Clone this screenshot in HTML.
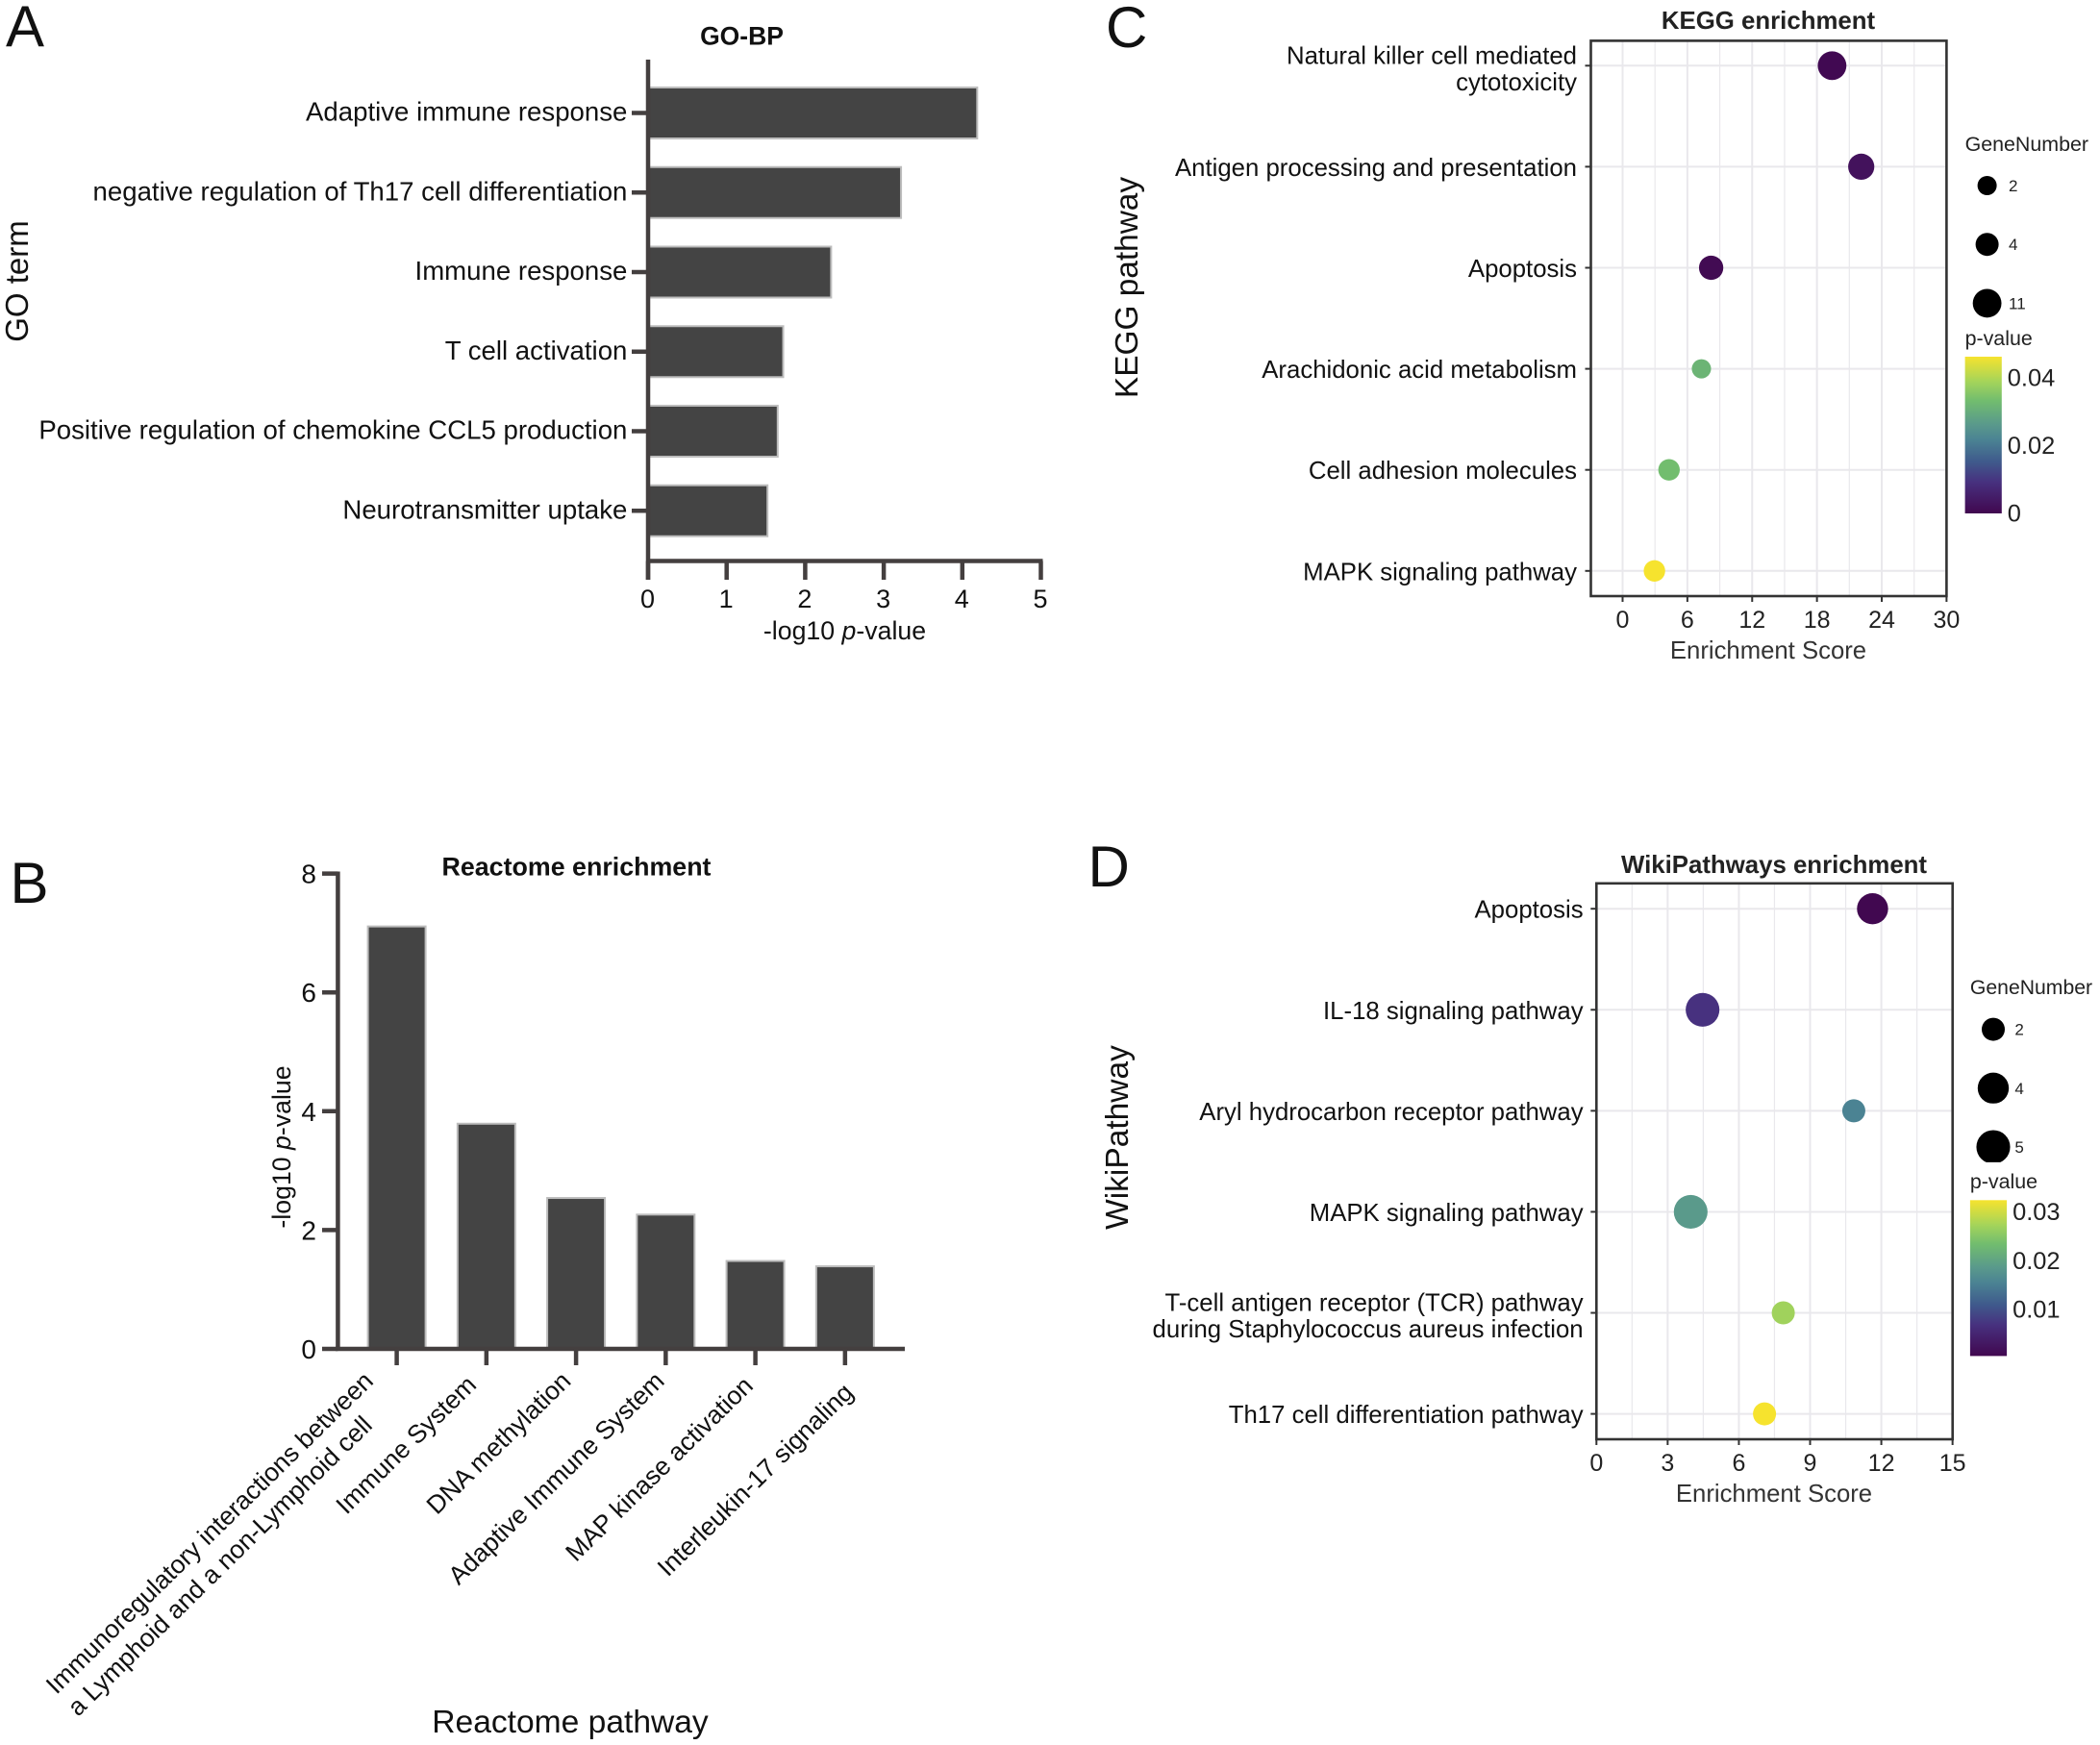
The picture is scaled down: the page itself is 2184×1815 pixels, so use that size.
<!DOCTYPE html>
<html lang="en">
<head>
<meta charset="utf-8">
<title>Enrichment analysis figure</title>
<style>
html,body{margin:0;padding:0;background:#fff;}
svg{display:block;font-family:"Liberation Sans",Arial,sans-serif;}
</style>
</head>
<body>
<svg id="fig" xmlns="http://www.w3.org/2000/svg" width="2184" height="1815" viewBox="0 0 2184 1815">
<rect x="0" y="0" width="2184" height="1815" fill="#fff"/>
<text x="6" y="48" font-size="60" fill="#111">A</text>
<text x="10.5" y="939" font-size="60" fill="#111">B</text>
<text x="1150" y="49" font-size="60" fill="#111">C</text>
<text x="1131.5" y="922" font-size="60" fill="#111">D</text>

<g id="panelA">
<text x="771.5" y="46.5" font-size="26.5" font-weight="bold" text-anchor="middle" fill="#111">GO-BP</text>
<text x="878.5" y="665" font-size="26.7" text-anchor="middle" fill="#111">-log10 <tspan font-style="italic">p</tspan>-value</text>
<text transform="translate(29,292.5) rotate(-90)" font-size="33" text-anchor="middle" fill="#111">GO term</text>
</g>
<g id="panelB">
<text x="599.5" y="910.5" font-size="26.8" font-weight="bold" text-anchor="middle" fill="#111">Reactome enrichment</text>
<text transform="translate(302,1193) rotate(-90)" font-size="26.7" text-anchor="middle" fill="#111">-log10 <tspan font-style="italic">p</tspan>-value</text>
<text x="593" y="1802" font-size="33.6" text-anchor="middle" fill="#111">Reactome pathway</text>
</g>
<g id="panelC">
<text x="1839" y="30" font-size="25.8" font-weight="bold" text-anchor="middle" fill="#222">KEGG enrichment</text>
<text x="1839" y="685" font-size="25.7" text-anchor="middle" fill="#333">Enrichment Score</text>
<text transform="translate(1183,299) rotate(-90)" font-size="33.4" text-anchor="middle" fill="#111">KEGG pathway</text>
<text x="2043.6" y="157" font-size="21.4" fill="#222">GeneNumber</text>
<text x="2043.6" y="359" font-size="21.4" fill="#222">p-value</text>
</g>
<g id="panelD">
<text x="1845" y="908" font-size="25.8" font-weight="bold" text-anchor="middle" fill="#222">WikiPathways enrichment</text>
<text x="1845" y="1562" font-size="25.7" text-anchor="middle" fill="#333">Enrichment Score</text>
<text transform="translate(1173,1183) rotate(-90)" font-size="33.5" text-anchor="middle" fill="#111">WikiPathway</text>
<text x="2048.9" y="1034" font-size="21.2" fill="#222">GeneNumber</text>
<text x="2048.9" y="1236" font-size="21.4" fill="#222">p-value</text>
</g>
</svg>
<script>
// ---- Panel A data ----
const goTerms = ["Adaptive immune response","negative regulation of Th17 cell differentiation","Immune response","T cell activation","Positive regulation of chemokine CCL5 production","Neurotransmitter uptake"];
const goValues = [4.19,3.22,2.33,1.72,1.65,1.52];
const goTicks = [0,1,2,3,4,5];
// ---- Panel B data ----
const reactomeTerms = ["Immunoregulatory interactions between\na Lymphoid and a non-Lymphoid cell","Immune System","DNA methylation","Adaptive Immune System","MAP kinase activation","Interleukin-17 signaling"];
const reactomeValues = [7.11,3.79,2.54,2.26,1.48,1.39];
const reactomeTicks = [0,2,4,6,8];
// ---- Panel C data ----
const keggTerms = ["Natural killer cell mediated\ncytotoxicity","Antigen processing and presentation","Apoptosis","Arachidonic acid metabolism","Cell adhesion molecules","MAPK signaling pathway"];
const keggScores = [19.4,22.1,8.2,7.3,4.3,2.95];
const keggGenes = [11,7,5,2,3,3];
const keggP = [0.0005,0.0025,0.0008,0.0315,0.0333,0.0462];
const keggTicks = [0,6,12,18,24,30];
const keggMinorTicks = [3,9,15,21,27];
const keggLegendGenes = [2,4,11];
const keggColorTicks = [0,0.02,0.04];
// ---- Panel D data ----
const wikiTerms = ["Apoptosis","IL-18 signaling pathway","Aryl hydrocarbon receptor pathway","MAPK signaling pathway","T-cell antigen receptor (TCR) pathway\nduring Staphylococcus aureus infection","Th17 cell differentiation pathway"];
const wikiScores = [11.63,4.47,10.84,3.97,7.87,7.08];
const wikiGenes = [4,5,2,5,2,2];
const wikiP = [0.0006,0.0069,0.0155,0.0187,0.027,0.0324];
const wikiTicks = [0,3,6,9,12,15];
const wikiMinorTicks = [1.5,4.5,7.5,10.5,13.5];
const wikiLegendGenes = [2,4,5];
const wikiColorTicks = [0.01,0.02,0.03];

const NS = "http://www.w3.org/2000/svg";
function mk(tag, attrs, parent){
  const el = document.createElementNS(NS, tag);
  for(const k in attrs){ el.setAttribute(k, attrs[k]); }
  parent.appendChild(el);
  return el;
}
const AXIS = "#443f3f", BAR = "#444444", BAR_EDGE = "#bdbdbd", GRID = "#e9e8ec", FRAME = "#333333";
const rampStops = [[0,"#41074f"],[0.2,"#47317f"],[0.33,"#3f5a8c"],[0.47,"#4b8393"],[0.57,"#5a9a8b"],[0.72,"#72bd6e"],[0.84,"#a4d45a"],[1,"#f6e32e"]];
function hexToRgb(h){ return [1,3,5].map(function(i){ return parseInt(h.substr(i,2),16); }); }
function ramp(t){
  t = Math.max(0, Math.min(1, t));
  for(let i = 1; i < rampStops.length; i++){
    if(t <= rampStops[i][0]){
      const a = rampStops[i-1], b = rampStops[i], f = (t-a[0])/(b[0]-a[0]);
      const ca = hexToRgb(a[1]), cb = hexToRgb(b[1]);
      return "rgb("+ca.map(function(c,j){ return Math.round(c+(cb[j]-c)*f); }).join(",")+")";
    }
  }
  return rampStops[rampStops.length-1][1];
}

// ---- Panel A ----
(function(){
  const g = document.getElementById("panelA");
  const x = function(v){ return 674 + v*81.7; };
  const y = function(i){ return 117.5 + i*82.75; };
  goValues.forEach(function(v,i){
    const bar = mk("rect",{x:x(0),y:y(i)-26.5,width:x(v)-x(0),height:53,fill:BAR,stroke:BAR_EDGE,"stroke-width":2},g);
    
    
  });
  const yLine = mk("line",{x1:x(0),x2:x(0),y1:62,y2:603,stroke:AXIS,"stroke-width":4.5},g);
  
  
  const xLine = mk("line",{x1:x(0)-2,x2:x(5)+2,y1:583.5,y2:583.5,stroke:AXIS,"stroke-width":4.5},g);
  
  
  goTerms.forEach(function(t,i){
    const tick = mk("line",{x1:x(0)-17,x2:x(0),y1:y(i),y2:y(i),stroke:AXIS,"stroke-width":4.5},g);
    
    
    const lab = mk("text",{x:652.4,y:y(i)+8.2,"font-size":27.6,"text-anchor":"end",fill:"#111"},g);
    
    
    lab.textContent = t;
  });
  goTicks.forEach(function(v){
    const tick = mk("line",{x1:x(v),x2:x(v),y1:583.5,y2:603,stroke:AXIS,"stroke-width":4.5},g);
    
    
    const lab = mk("text",{x:x(v)-0.5,y:632,"font-size":27,"text-anchor":"middle",fill:"#111"},g);
    
    
    lab.textContent = v;
  });
})();

// ---- Panel B ----
(function(){
  const g = document.getElementById("panelB");
  const x = function(i){ return 412.6 + i*93.25; };
  const y = function(v){ return 1403 - v*61.8; };
  // per-label layout nudges for the rotated category text
  const nudgeX = function(i){ return i===0 ? -15 : i===1 ? -1 : i===2 ? 4 : i===3 ? 8 : i===4 ? 7 : 18; };
  const nudgeY = function(i){ return i===0 ? -4 : i===1 ? 0 : i===2 ? -4 : i===3 ? -4 : i===4 ? -7 : 0; };
  reactomeValues.forEach(function(v,i){
    const bar = mk("rect",{x:x(i)-30,y:y(v),width:60,height:y(0)-y(v),fill:BAR,stroke:BAR_EDGE,"stroke-width":2},g);
    
    
  });
  const yLine = mk("line",{x1:351.4,x2:351.4,y1:906.5,y2:1405,stroke:AXIS,"stroke-width":4.5},g);
  
  
  const xLine = mk("line",{x1:349,x2:941,y1:1403,y2:1403,stroke:AXIS,"stroke-width":4.5},g);
  
  
  reactomeTicks.forEach(function(v){
    const tick = mk("line",{x1:335,x2:351.4,y1:y(v),y2:y(v),stroke:AXIS,"stroke-width":4.5},g);
    
    
    const lab = mk("text",{x:329,y:y(v)+10,"font-size":28,"text-anchor":"end",fill:"#111"},g);
    
    
    lab.textContent = v;
  });
  reactomeTerms.forEach(function(t,i){
    const tick = mk("line",{x1:x(i),x2:x(i),y1:1403,y2:1420,stroke:AXIS,"stroke-width":4.5},g);
    
    
    const lines = t.split("\n");
    lines.forEach(function(line,j){
      const ax = x(i) - 8 + nudgeX(i) + (i===0 && j===1 ? -1 : 0);
      const ay = (i>=4 ? 1450 : 1442) + nudgeY(i) + j*46;
      const lab = mk("text",{transform:"translate("+ax+","+ay+") rotate(-44.5)","font-size":26.5,"text-anchor":"end",fill:"#111"},g);
      
      
      lab.textContent = line;
    });
  });
})();

// ---- Dot plot builder shared by panels C and D ----
function dotPlot(o){
  const g = document.getElementById(o.id);
  const x = function(v){ return o.x0 + v*o.xUnit; };
  const y = function(i){ return o.y0 + i*o.yStep; };
  o.minor.forEach(function(v){
    const gl = mk("line",{x1:x(v),x2:x(v),y1:o.top,y2:o.bottom,stroke:GRID,"stroke-width":1.2},g);
    
    
  });
  o.ticks.forEach(function(v){
    const gl = mk("line",{x1:x(v),x2:x(v),y1:o.top,y2:o.bottom,stroke:GRID,"stroke-width":2},g);
    
    
  });
  o.terms.forEach(function(t,i){
    const gl = mk("line",{x1:o.left,x2:o.right,y1:y(i),y2:y(i),stroke:GRID,"stroke-width":2},g);
    
    
  });
  o.scores.forEach(function(s,i){
    const dot = mk("circle",{cx:x(s),cy:y(i),r:o.radius(o.genes[i]),fill:ramp((o.p[i]-o.pMin)/(o.pMax-o.pMin))},g);
    
    
  });
  const frame = mk("rect",{x:o.left,y:o.top,width:o.right-o.left,height:o.bottom-o.top,fill:"none",stroke:FRAME,"stroke-width":2.6},g);
  
  
  o.terms.forEach(function(t,i){
    const tick = mk("line",{x1:o.left-6,x2:o.left,y1:y(i),y2:y(i),stroke:FRAME,"stroke-width":2},g);
    
    
    const lines = t.split("\n");
    lines.forEach(function(line,j){
      const cy = lines.length===1 ? y(i)+0.5 : y(i)-10.8+j*27.5;
      const lab = mk("text",{x:o.labelRight+1,y:cy+9,"font-size":25.75,"text-anchor":"end",fill:"#111"},g);
      
      
      lab.textContent = line;
    });
  });
  o.ticks.forEach(function(v){
    const tick = mk("line",{x1:x(v),x2:x(v),y1:o.bottom,y2:o.bottom+6,stroke:FRAME,"stroke-width":2},g);
    
    
    const lab = mk("text",{x:x(v),y:o.bottom+33,"font-size":25,"text-anchor":"middle",fill:"#222"},g);
    
    
    lab.textContent = v;
  });
  // size legend
  o.legendGenes.forEach(function(n,i){
    const ky = o.legendY + i*61.2;
    const clipId = o.prefix+"-key-clip-"+i;
    const cp = mk("clipPath",{id:clipId},g);
    mk("rect",{x:o.legendX-30,y:ky-30.6,width:60,height:46.5+(o.radius(n)>16?0:14.1)},cp);
    const dot = mk("circle",{cx:o.legendX,cy:ky,r:o.radius(n),fill:"#000","clip-path":"url(#"+clipId+")"},g);
    
    
    const lab = mk("text",{x:o.legendX+22.4,y:ky+6,"font-size":17,fill:"#222"},g);
    
    
    lab.textContent = n;
  });
  // color bar
  const gradId = o.prefix+"-grad";
  const grad = mk("linearGradient",{id:gradId,x1:0,y1:1,x2:0,y2:0},g);
  rampStops.forEach(function(s){
    mk("stop",{offset:s[0],"stop-color":s[1]},grad);
  });
  const bar = mk("rect",{x:o.cbX,y:o.cbTop,width:38.2,height:o.cbBottom-o.cbTop,fill:"url(#"+gradId+")"},g);
  
  
  const cy = function(p){ return o.cbBottom - (p-o.pMin)/(o.pMax-o.pMin)*(o.cbBottom-o.cbTop); };
  o.colorTicks.forEach(function(p){
    const lab = mk("text",{x:o.cbX+44.2,y:cy(p)+8.5,"font-size":25.4,fill:"#222"},g);
    
    
    lab.textContent = p;
  });
}
dotPlot({id:"panelC",prefix:"kegg",terms:keggTerms,scores:keggScores,genes:keggGenes,p:keggP,ticks:keggTicks,minor:keggMinorTicks,
  legendGenes:keggLegendGenes,colorTicks:keggColorTicks,pMin:0,pMax:0.0462,
  x0:1687.5,xUnit:11.23,y0:68.3,yStep:105.1,left:1654.5,right:2024.4,top:42.4,bottom:620,labelRight:1639,
  radius:function(n){ return 8+2*Math.log2(n); },legendX:2066.6,legendY:193,cbX:2043.6,cbTop:371,cbBottom:534});
dotPlot({id:"panelD",prefix:"wikipathways",terms:wikiTerms,scores:wikiScores,genes:wikiGenes,p:wikiP,ticks:wikiTicks,minor:wikiMinorTicks,
  legendGenes:wikiLegendGenes,colorTicks:wikiColorTicks,pMin:0.0005,pMax:0.0324,
  x0:1660.3,xUnit:24.69,y0:945.2,yStep:105.08,left:1660.3,right:2030.7,top:918.8,bottom:1497,labelRight:1645.6,
  radius:function(n){ return 7.8+4.2*Math.log2(n); },legendX:2073,legendY:1070.6,cbX:2048.9,cbTop:1248.3,cbBottom:1410.4});
</script>
</body>
</html>
